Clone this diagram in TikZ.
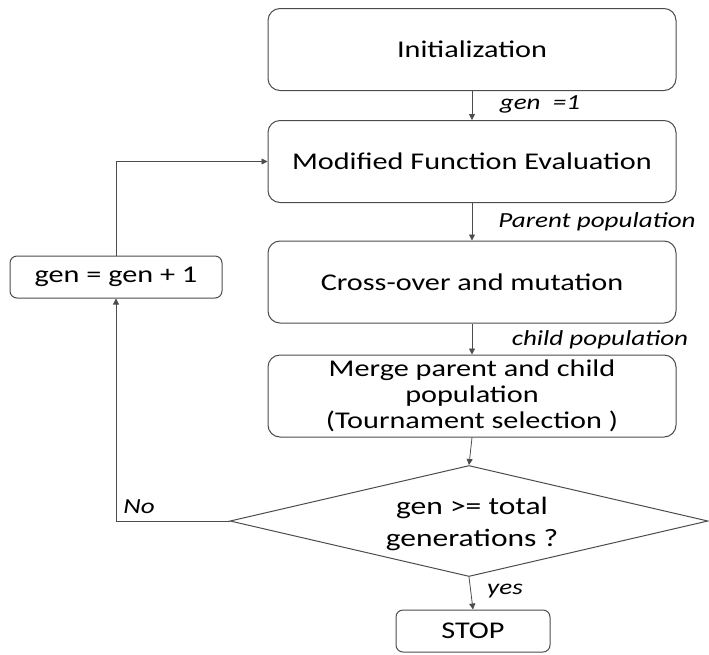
\documentclass[tikz,border=0pt]{standalone}
\usepackage{fontspec}
\setmainfont{Carlito}[FakeStretch=1.26]
\usetikzlibrary{arrows.meta,shapes.geometric}
\begin{document}
\begin{tikzpicture}[x=1pt,y=-1pt,
  box/.style={draw=black!70,line width=1pt,rounded corners=12pt,minimum width=408pt,minimum height=82pt,inner sep=0pt,font=\fontsize{24}{26}\selectfont,align=center},
  small/.style={draw=black!70,line width=1pt,rounded corners=7pt,inner sep=0pt,font=\fontsize{24}{26}\selectfont},
  lab/.style={font=\fontsize{21.5}{24}\selectfont\itshape},
  conn/.style={draw=black!70,line width=0.8pt,-{Triangle[length=6pt,width=6pt]}}]
\useasboundingbox (0,0) rectangle (709,654);
\node[box] (init) at (472,49.5) {Initialization};
\node[box] (mfe) at (472,161.5) {Modified Function Evaluation};
\node[box] (cross) at (472,282) {Cross-over and mutation};
\node[box] (merge) at (472,396) {Merge parent and child\\population\\(Tournament selection )};
\node[diamond,shape aspect=4.3,draw=black!70,line width=1pt,minimum width=478pt,minimum height=111pt,inner sep=0pt,font=\fontsize{25}{32}\selectfont,align=center] (dec) at (469,521) {};
\node[font=\fontsize{25}{32}\selectfont,align=center,inner sep=0pt] (dectext) at (472,524) {gen >= total\\generations ?};
\node[small,minimum width=154pt,minimum height=42pt] (stop) at (473,631) {STOP};
\node[small,minimum width=212pt,minimum height=42pt] (gen) at (116,277) {gen = gen + 1};
\draw[conn] (init.south) -- (mfe.north);
\draw[conn] (mfe.south) -- (cross.north);
\draw[conn] (cross.south) -- (merge.north);
\draw[conn] (merge.south) -- (dec.north);
\draw[conn] (dec.south) -- (stop.north);
\draw[conn] (dec.west) -| (gen.south);
\draw[conn] (gen.north) |- (mfe.west);
\node[lab] (l1) at (540,104) {gen\ \ =1};
\node[lab] (l2) at (597,222) {Parent population};
\node[lab] (l3) at (600,340) {child population};
\node[lab] (l4) at (139,507) {No};
\node[lab] (l5) at (505,591) {yes};
\end{tikzpicture}
\end{document}
